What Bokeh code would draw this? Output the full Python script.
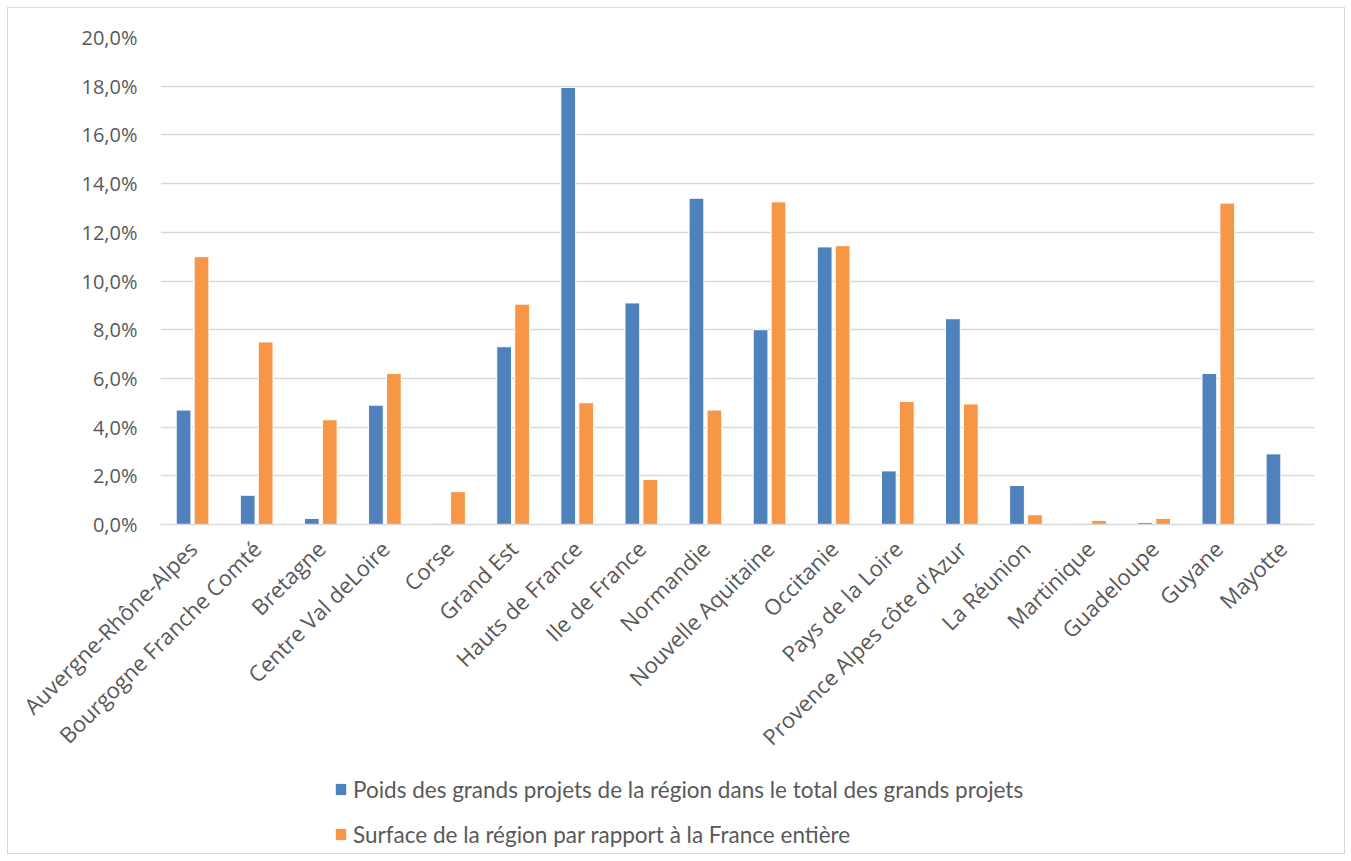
from bokeh.plotting import figure
from bokeh.layouts import column
from bokeh.models import (FactorRange, Range1d, CustomJSTickFormatter, Legend,
                          LegendItem, ColumnDataSource, FixedTicker)
from bokeh.transform import dodge
from bokeh.embed import file_html
from bokeh.resources import INLINE
from math import pi

regions = ["Auvergne-Rhône-Alpes", "Bourgogne Franche Comté", "Bretagne",
           "Centre Val deLoire", "Corse", "Grand Est", "Hauts de France",
           "Ile de France", "Normandie", "Nouvelle Aquitaine", "Occitanie",
           "Pays de la Loire", "Provence Alpes côte d'Azur", "La Réunion",
           "Martinique", "Guadeloupe", "Guyane", "Mayotte"]
poids = [4.7, 1.2, 0.25, 4.9, 0.05, 7.3, 17.95, 9.1, 13.4, 8.0, 11.4, 2.2,
         8.45, 1.6, 0.03, 0.08, 6.2, 2.9]
surface = [11.0, 7.5, 4.3, 6.2, 1.35, 9.05, 5.0, 1.85, 4.7, 13.25, 11.45,
           5.05, 4.95, 0.4, 0.17, 0.25, 13.2, 0.05]
y_ticks = [0, 2, 4, 6, 8, 10, 12, 14, 16, 18, 20]

label1 = "Poids des grands projets de la région dans le total des grands projets"
label2 = "Surface de la région par rapport à la France entière"

BLUE = "#4F81BD"
ORANGE = "#F79646"
TXT = "#595959"
GRID = "#D9D9D9"

src = ColumnDataSource(dict(region=regions, poids=poids, surface=surface))

p = figure(width=1336, height=760, x_range=FactorRange(*regions, range_padding=0),
           y_range=Range1d(0, 20), output_backend="svg", toolbar_location=None,
           min_border_left=152, min_border_right=30, min_border_top=29,
           min_border_bottom=244)

p.vbar(x=dodge("region", -0.14, range=p.x_range), top="poids", width=0.23,
       source=src, fill_color=BLUE, line_color="white", line_width=1)
p.vbar(x=dodge("region", 0.14, range=p.x_range), top="surface", width=0.23,
       source=src, fill_color=ORANGE, line_color="white", line_width=1)

p.outline_line_color = None
p.xgrid.grid_line_color = None
p.ygrid.grid_line_color = GRID
p.ygrid.grid_line_width = 1.3

p.yaxis.ticker = FixedTicker(ticks=y_ticks)
p.yaxis.formatter = CustomJSTickFormatter(code="return tick.toFixed(1).replace('.', ',') + '%';")
p.yaxis.axis_line_color = None
p.yaxis.major_tick_line_color = None
p.yaxis.minor_tick_line_color = None
p.yaxis.major_label_text_font = "Open Sans"
p.yaxis.major_label_text_font_size = "20px"
p.yaxis.major_label_text_color = TXT
p.yaxis.major_label_standoff = 17

p.xaxis.axis_line_color = GRID
p.xaxis.axis_line_width = 1.5
p.xaxis.major_tick_line_color = None
p.xaxis.minor_tick_line_color = None
p.xaxis.major_label_orientation = pi / 4
p.xaxis.major_label_text_font = "Open Sans"
p.xaxis.major_label_text_font_size = "22px"
p.xaxis.major_label_text_color = TXT
p.xaxis.major_label_standoff = 14

# legend panel (frame aligned with the chart frame by the column layout)
lg = figure(width=1336, height=85, x_range=Range1d(0, 1), y_range=Range1d(0, 1),
            output_backend="svg", toolbar_location=None, x_axis_type=None,
            y_axis_type=None, min_border=0)
lg.outline_line_color = None
lg.grid.grid_line_color = None
hidden = ColumnDataSource(dict(x=[0.5], top=[0.0]))
l1 = lg.vbar(x="x", top="top", bottom=0, width=0.0, source=hidden,
             fill_color=BLUE, line_color=None)
l2 = lg.vbar(x="x", top="top", bottom=0, width=0.0, source=hidden,
             fill_color=ORANGE, line_color=None)

legend = Legend(items=[LegendItem(label=label1, renderers=[l1]),
                       LegendItem(label=label2, renderers=[l2])],
                location=(174, 5), orientation="vertical")
legend.glyph_width = 13
legend.glyph_height = 14
legend.label_height = 28
legend.spacing = 17
legend.padding = 0
legend.margin = 0
legend.label_standoff = 6
legend.border_line_color = None
legend.background_fill_alpha = 0
legend.label_text_font = "Lato"
legend.label_text_font_size = "22.5px"
legend.label_text_color = TXT
lg.add_layout(legend, "center")

layout = column(p, lg, spacing=0)
layout.styles = {"border": "1px solid #D9D9D9", "margin-left": "7px", "margin-top": "7px"}

open("out.html", "w").write(file_html(layout, INLINE))
